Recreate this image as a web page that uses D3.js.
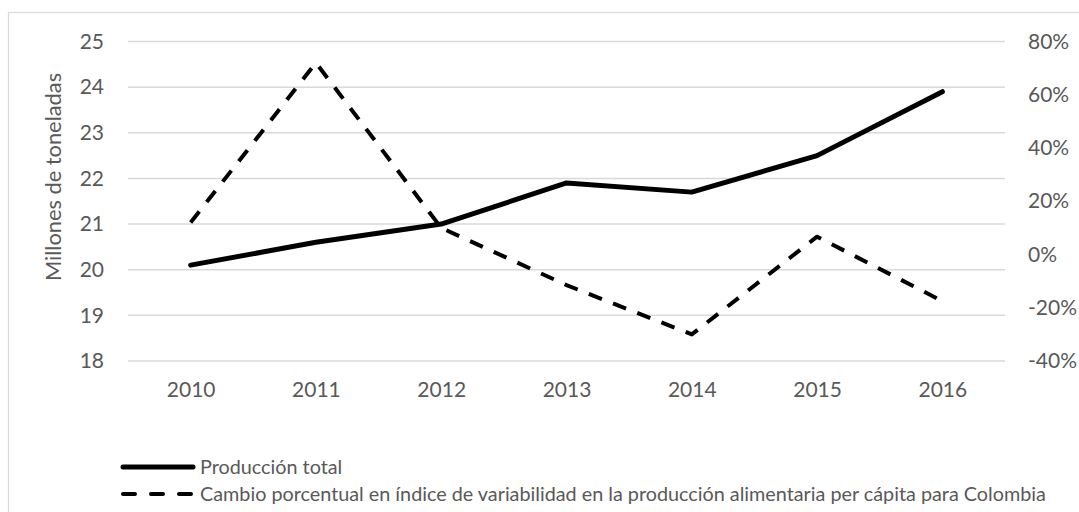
<!DOCTYPE html>
<html>
<head>
<meta charset="utf-8">
<script src="https://cdn.jsdelivr.net/npm/d3@7"></script>
<style>
  body { margin: 0; background: #fff; }
  text { font-family: Lato, "Open Sans", sans-serif; fill: #595959; }
</style>
</head>
<body>
<div id="chart"></div>
<script>
// data
const years = ["2010", "2011", "2012", "2013", "2014", "2015", "2016"];
const produccion = [20.1, 20.6, 21.0, 21.9, 21.7, 22.5, 23.9];
const cambio = [0.12, 0.72, 0.10, -0.115, -0.30, 0.067, -0.175];
const leftTicks = [18, 19, 20, 21, 22, 23, 24, 25];
const rightTicks = [-0.4, -0.2, 0, 0.2, 0.4, 0.6, 0.8];
const seriesNames = [
  "Producción total",
  "Cambio porcentual en índice de variabilidad en la producción alimentaria per cápita para Colombia"
];

const width = 1079, height = 512;
const margin = { top: 41.5, right: 74, bottom: 151, left: 128 };
const tickFont = "21px";

const svg = d3.select("#chart").append("svg")
  .attr("width", width)
  .attr("height", height);

// chart border (cropped off at right / bottom)
svg.append("rect")
  .attr("x", 8.5).attr("y", 12.5)
  .attr("width", 1100).attr("height", 600)
  .attr("fill", "none")
  .attr("stroke", "#d9d9d9")
  .attr("stroke-width", 1.2);

const x = d3.scalePoint()
  .domain(years)
  .range([margin.left, width - margin.right])
  .padding(0.5);

const yL = d3.scaleLinear()
  .domain([18, 25])
  .range([height - margin.bottom, margin.top]);

const yR = d3.scaleLinear()
  .domain([-0.4, 0.8])
  .range([height - margin.bottom, margin.top]);

// gridlines
svg.append("g")
  .selectAll("line")
  .data(leftTicks)
  .join("line")
  .attr("x1", margin.left).attr("x2", width - margin.right)
  .attr("y1", d => yL(d)).attr("y2", d => yL(d))
  .attr("stroke", "#d9d9d9")
  .attr("stroke-width", 1.5);

// left axis
const leftAxis = svg.append("g")
  .attr("transform", `translate(${margin.left - 24},0)`)
  .call(d3.axisLeft(yL).tickValues(leftTicks).tickSize(0).tickPadding(0).tickFormat(d3.format("d")));
leftAxis.select(".domain").remove();
leftAxis.selectAll("text").style("font-size", tickFont).attr("fill", "#595959")
  .style("font-family", "Lato, sans-serif");

// right axis (hyphen minus like the original)
const pct = d => (Math.round(d * 100)) + "%";
const rightAxis = svg.append("g")
  .attr("transform", `translate(${width - margin.right + 23},0)`)
  .call(d3.axisRight(yR).tickValues(rightTicks).tickSize(0).tickPadding(0).tickFormat(pct));
rightAxis.select(".domain").remove();
rightAxis.selectAll("text").style("font-size", tickFont).attr("fill", "#595959")
  .style("font-family", "Lato, sans-serif");

// x axis labels
const xAxis = svg.append("g")
  .attr("transform", `translate(0,${height - margin.bottom + 21})`)
  .call(d3.axisBottom(x).tickSize(0).tickPadding(0));
xAxis.select(".domain").remove();
xAxis.selectAll("text").style("font-size", tickFont).attr("fill", "#595959")
  .style("font-family", "Lato, sans-serif")
  .attr("dy", "0.71em");

// y axis title
svg.append("text")
  .attr("transform", `translate(53,177) rotate(-90)`)
  .attr("text-anchor", "middle")
  .attr("dy", "0.35em")
  .style("font-size", "21.8px")
  .text("Millones de toneladas");

// lines
const lineL = d3.line()
  .x((d, i) => x(years[i]))
  .y(d => yL(d));
const lineR = d3.line()
  .x((d, i) => x(years[i]))
  .y(d => yR(d));

svg.append("path")
  .datum(cambio)
  .attr("d", lineR)
  .attr("fill", "none")
  .attr("stroke", "#000")
  .attr("stroke-width", 4)
  .attr("stroke-dasharray", "14,12")
  .attr("stroke-linejoin", "round");

svg.append("path")
  .datum(produccion)
  .attr("d", lineL)
  .attr("fill", "none")
  .attr("stroke", "#000")
  .attr("stroke-width", 5)
  .attr("stroke-linejoin", "round")
  .attr("stroke-linecap", "round");

// legend
const legend = svg.append("g");
const legendY = [467, 494];
legend.selectAll("line")
  .data(seriesNames)
  .join("line")
  .attr("x1", 123).attr("x2", 193)
  .attr("y1", (d, i) => legendY[i]).attr("y2", (d, i) => legendY[i])
  .attr("stroke", "#000")
  .attr("stroke-width", (d, i) => i === 0 ? 5 : 4)
  .attr("stroke-linecap", "round")
  .attr("stroke-dasharray", (d, i) => i === 0 ? null : "12,16");

legend.selectAll("text")
  .data(seriesNames)
  .join("text")
  .attr("x", 200)
  .attr("y", (d, i) => legendY[i])
  .attr("dy", "0.35em")
  .style("font-size", "19.8px")
  .text(d => d);
</script>
</body>
</html>
